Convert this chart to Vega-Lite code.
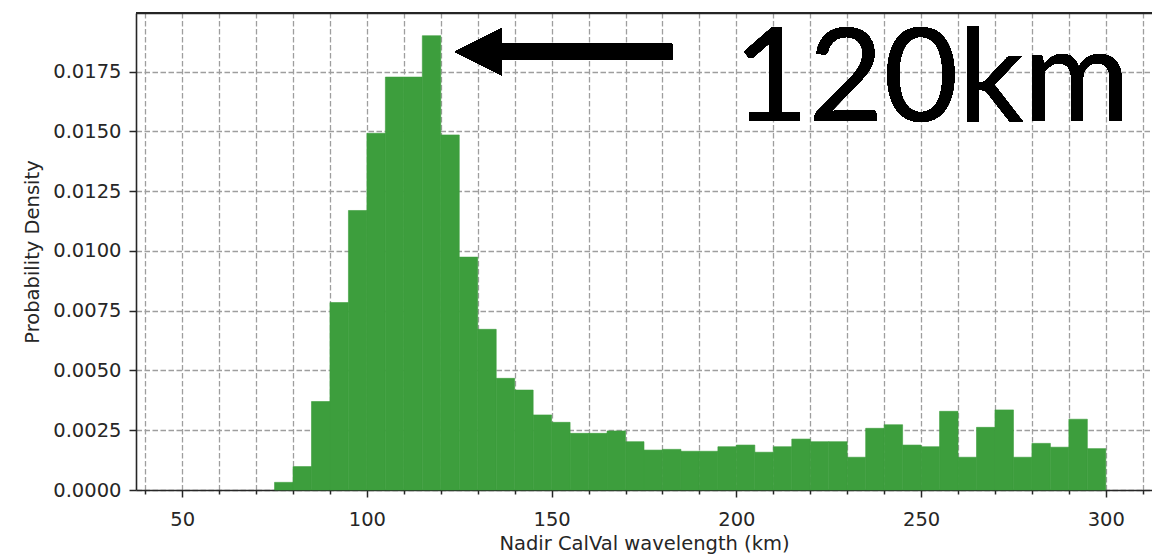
{
  "$schema": "https://vega.github.io/schema/vega-lite/v6.json",
  "width": 1016,
  "height": 477,
  "autosize": {"type": "none"},
  "padding": {"left": 136, "top": 13, "right": 0, "bottom": 66},
  "background": "white",
  "config": {
    "view": {"stroke": null},
    "axis": {
      "labelOverlap": false,
      "labelFlush": false,
      "grid": true,
      "gridColor": "#9e9e9e",
      "gridDash": [5.5, 2.5],
      "gridWidth": 1.3,
      "domainColor": "#262626",
      "domainWidth": 1.6,
      "tickColor": "#262626",
      "tickWidth": 1.5,
      "labelFont": "DejaVu Sans",
      "labelFontSize": 19.5,
      "labelColor": "#262626",
      "titleFont": "DejaVu Sans",
      "titleFontSize": 19.5,
      "titleFontWeight": "normal",
      "titleColor": "#262626",
      "zindex": 1
    },
    "axisX": {"labelPadding": 13, "titlePadding": 6},
    "axisY": {"labelPadding": 8, "titlePadding": 10, "tickSize": 7}
  },
  "data": {
    "values": [
      {"start": 75, "end": 80, "density": 0.00032},
      {"start": 80, "end": 85, "density": 0.00098},
      {"start": 85, "end": 90, "density": 0.0037},
      {"start": 90, "end": 95, "density": 0.00784},
      {"start": 95, "end": 100, "density": 0.01169},
      {"start": 100, "end": 105, "density": 0.01492},
      {"start": 105, "end": 110, "density": 0.01727},
      {"start": 110, "end": 115, "density": 0.01727},
      {"start": 115, "end": 120, "density": 0.0190},
      {"start": 120, "end": 125, "density": 0.01485},
      {"start": 125, "end": 130, "density": 0.00974},
      {"start": 130, "end": 135, "density": 0.00672},
      {"start": 135, "end": 140, "density": 0.00467},
      {"start": 140, "end": 145, "density": 0.00418},
      {"start": 145, "end": 150, "density": 0.00314},
      {"start": 150, "end": 155, "density": 0.00283},
      {"start": 155, "end": 160, "density": 0.00237},
      {"start": 160, "end": 165, "density": 0.00237},
      {"start": 165, "end": 170, "density": 0.00247},
      {"start": 170, "end": 175, "density": 0.00202},
      {"start": 175, "end": 180, "density": 0.00167},
      {"start": 180, "end": 185, "density": 0.0017},
      {"start": 185, "end": 190, "density": 0.00162},
      {"start": 190, "end": 195, "density": 0.00162},
      {"start": 195, "end": 200, "density": 0.00181},
      {"start": 200, "end": 205, "density": 0.00188},
      {"start": 205, "end": 210, "density": 0.00158},
      {"start": 210, "end": 215, "density": 0.00181},
      {"start": 215, "end": 220, "density": 0.00213},
      {"start": 220, "end": 225, "density": 0.00202},
      {"start": 225, "end": 230, "density": 0.00202},
      {"start": 230, "end": 235, "density": 0.00137},
      {"start": 235, "end": 240, "density": 0.00258},
      {"start": 240, "end": 245, "density": 0.00273},
      {"start": 245, "end": 250, "density": 0.00188},
      {"start": 250, "end": 255, "density": 0.00181},
      {"start": 255, "end": 260, "density": 0.00329},
      {"start": 260, "end": 265, "density": 0.00137},
      {"start": 265, "end": 270, "density": 0.00262},
      {"start": 270, "end": 275, "density": 0.00335},
      {"start": 275, "end": 280, "density": 0.00137},
      {"start": 280, "end": 285, "density": 0.00195},
      {"start": 285, "end": 290, "density": 0.00179},
      {"start": 290, "end": 295, "density": 0.00296},
      {"start": 295, "end": 300, "density": 0.00173}
    ]
  },
  "resolve": {"axis": {"x": "independent"}},
  "layer": [
    {
      "mark": {"type": "bar", "fill": "#3d9e3d", "stroke": "#3d9e3d", "strokeWidth": 0.6, "opacity": 1},
      "encoding": {
        "x": {
          "field": "start",
          "type": "quantitative",
          "scale": {"domain": [37.5, 312.5], "nice": false, "zero": false},
          "axis": {
            "orient": "bottom",
            "values": [50, 100, 150, 200, 250, 300],
            "grid": false,
            "tickSize": 7,
            "title": "Nadir CalVal wavelength (km)"
          }
        },
        "x2": {"field": "end"},
        "y": {
          "field": "density",
          "type": "quantitative",
          "scale": {"domain": [0, 0.01995], "nice": false},
          "axis": {
            "values": [0, 0.0025, 0.005, 0.0075, 0.01, 0.0125, 0.015, 0.0175],
            "format": ".4f",
            "title": "Probability Density"
          }
        },
        "y2": {"datum": 0}
      }
    },
    {
      "mark": {"type": "rule", "color": "#262626", "strokeWidth": 1.6},
      "encoding": {
        "x": {
          "datum": 37.5,
          "type": "quantitative",
          "axis": {
            "orient": "top",
            "values": [40, 50, 60, 70, 80, 90, 100, 110, 120, 130, 140, 150, 160, 170, 180, 190, 200, 210, 220, 230, 240, 250, 260, 270, 280, 290, 300, 310],
            "grid": true,
            "ticks": false,
            "labels": false,
            "domain": true,
            "title": null
          }
        },
        "x2": {"datum": 312.5},
        "y": {"datum": 0.01995, "type": "quantitative"}
      }
    },
    {
      "mark": {"type": "rule", "color": "black", "strokeWidth": 16, "strokeCap": "butt"},
      "encoding": {
        "x": {
          "datum": 135,
          "type": "quantitative",
          "axis": {
            "orient": "bottom",
            "values": [40, 60, 70, 80, 90, 110, 120, 130, 140, 160, 170, 180, 190, 210, 220, 230, 240, 260, 270, 280, 290, 310],
            "grid": false,
            "labels": false,
            "domain": false,
            "tickSize": 4,
            "title": null
          }
        },
        "x2": {"datum": 182.6},
        "y": {"datum": 0.01833, "type": "quantitative"}
      }
    },
    {
      "mark": {"type": "point", "shape": "M-1,0L1,-1L1,1Z", "size": 2209, "filled": true, "color": "black", "opacity": 1, "strokeWidth": 0},
      "encoding": {
        "x": {"datum": 130.2, "type": "quantitative", "axis": null},
        "y": {"datum": 0.01833, "type": "quantitative"}
      }
    },
    {
      "mark": {"type": "text", "text": "120km", "font": "Lato", "fontSize": 129, "align": "left", "baseline": "alphabetic", "color": "black"},
      "encoding": {
        "x": {"datum": 199.3, "type": "quantitative", "axis": null},
        "y": {"datum": 0.01542, "type": "quantitative"}
      }
    }
  ]
}
